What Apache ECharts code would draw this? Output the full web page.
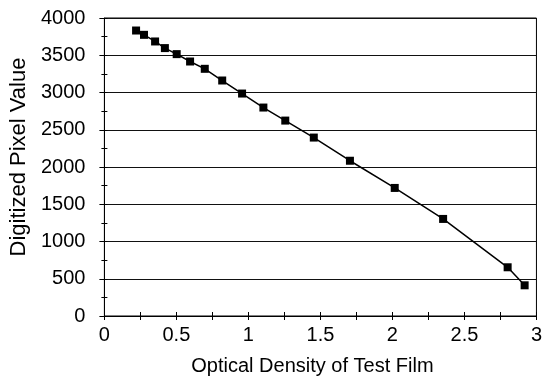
<!DOCTYPE html>
<html>
<head>
<meta charset="utf-8">
<script src="https://cdn.jsdelivr.net/npm/echarts@6/dist/echarts.min.js"></script>
<style>
html,body{margin:0;padding:0;background:#fff;}
#chart{width:545px;height:386px;}
</style>
</head>
<body>
<div id="chart"></div>
<script>
const opticalDensity = [0.22, 0.275, 0.352, 0.42, 0.502, 0.595, 0.697, 0.818, 0.956, 1.104, 1.256, 1.454, 1.705, 2.016, 2.352, 2.80, 2.918];
const pixelValue = [3832, 3774, 3685, 3596, 3515, 3416, 3318, 3161, 2986, 2798, 2623, 2395, 2084, 1719, 1303, 654, 412];
const xTitle = 'Optical Density of Test Film';
const yTitle = 'Digitized Pixel Value';

const pts = opticalDensity.map((x, i) => [x, pixelValue[i]]);
const font = 'Liberation Sans, Arial, sans-serif';
const chart = echarts.init(document.getElementById('chart'), null, {renderer: 'canvas'});
chart.setOption({
  animation: false,
  backgroundColor: '#fff',
  grid: {left: 102, right: 3, top: 18, bottom: 70, show: true, borderColor: '#000', borderWidth: 1, backgroundColor: 'transparent'},
  xAxis: [{
    type: 'value', min: 0, max: 3, interval: 0.5, position: 'bottom',
    name: xTitle, nameLocation: 'middle', nameGap: 40,
    nameTextStyle: {fontFamily: font, fontSize: 20, color: '#000', padding: [0, 16, 0, 0]},
    axisLine: {show: true, lineStyle: {color: '#000', width: 1}},
    axisTick: {show: true, length: 4, lineStyle: {color: '#000'}},
    minorTick: {show: true, splitNumber: 2, length: 4, lineStyle: {color: '#000'}},
    axisLabel: {fontFamily: font, fontSize: 20, color: '#000', margin: 9, formatter: v => String(v)},
    splitLine: {show: false}
  }, {
    type: 'value', min: 0, max: 3, interval: 0.25, position: 'bottom', offset: 0,
    axisLine: {show: false},
    axisTick: {show: true, inside: true, length: 4, lineStyle: {color: '#000'}},
    axisLabel: {show: false},
    splitLine: {show: false}
  }],
  yAxis: [{
    type: 'value', min: 0, max: 4000, interval: 500, position: 'left',
    name: yTitle, nameLocation: 'middle', nameGap: 70, nameRotate: 90,
    nameTextStyle: {fontFamily: font, fontSize: 22, color: '#000', padding: [0, 0, 0, 20]},
    axisLine: {show: true, lineStyle: {color: '#000', width: 1}},
    axisTick: {show: true, length: 5, lineStyle: {color: '#000'}},
    minorTick: {show: true, splitNumber: 2, length: 3, lineStyle: {color: '#000'}},
    axisLabel: {fontFamily: font, fontSize: 20, color: '#000', margin: 19, formatter: v => String(v)},
    splitLine: {show: true, lineStyle: {color: '#111', width: 1}}
  }, {
    type: 'value', min: 0, max: 4000, interval: 250, position: 'left', offset: 0,
    axisLine: {show: false},
    axisTick: {show: true, inside: true, length: 3, lineStyle: {color: '#000'}},
    axisLabel: {show: false},
    splitLine: {show: false}
  }],
  series: [{
    type: 'line', xAxisIndex: 0, yAxisIndex: 0,
    data: pts,
    symbol: 'rect', symbolSize: 8,
    itemStyle: {color: '#000'},
    lineStyle: {color: '#000', width: 1.5}
  }]
});
</script>
</body>
</html>
